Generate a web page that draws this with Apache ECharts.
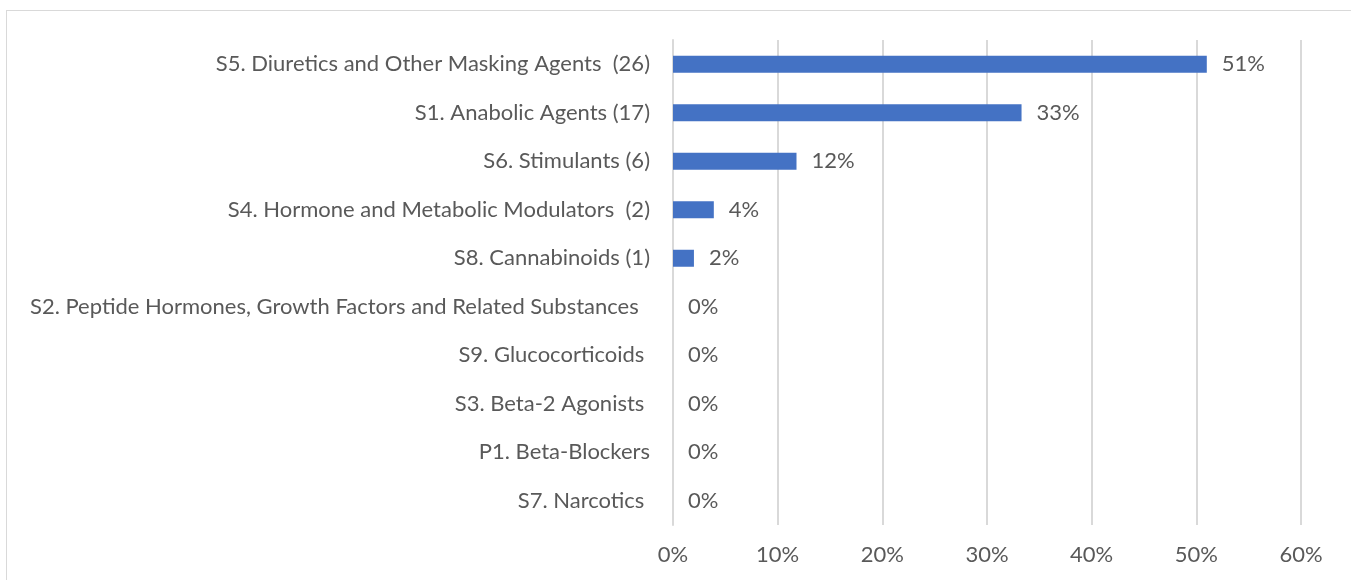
<!DOCTYPE html>
<html>
<head>
<meta charset="utf-8">
<script src="https://cdn.jsdelivr.net/npm/echarts@6/dist/echarts.min.js"></script>
<style>
  html, body { margin: 0; padding: 0; background: #fff; }
  #frame {
    position: absolute; left: 6px; top: 10px; width: 1400px; height: 600px;
    border-left: 1px solid #d9d9d9; border-top: 1px solid #d9d9d9;
  }
  #main { position: absolute; left: 0; top: 0; width: 1351px; height: 580px; }
</style>
</head>
<body>
<div id="frame"></div>
<div id="main"></div>
<script>
// categories top -> bottom (reversed for the category axis below)
var categories = [
  'S5. Diuretics and Other Masking Agents  (26)',
  'S1. Anabolic Agents (17)',
  'S6. Stimulants (6)',
  'S4. Hormone and Metabolic Modulators  (2)',
  'S8. Cannabinoids (1)',
  'S2. Peptide Hormones, Growth Factors and Related Substances  ',
  'S9. Glucocorticoids ',
  'S3. Beta-2 Agonists ',
  'P1. Beta-Blockers',
  'S7. Narcotics '
];
// share of cases, percent (label shows the rounded value)
var shares = [51.0, 33.3, 11.8, 3.9, 2.0, 0, 0, 0, 0, 0];
var xTicks = [0, 10, 20, 30, 40, 50, 60];

var textColor = '#595959';
var fontFamily = 'Lato, "Open Sans", sans-serif';
var fontSize = 22;

var chart = echarts.init(document.getElementById('main'));
chart.setOption({
  animation: false,
  grid: { left: 673, right: 50, top: 40, bottom: 55, containLabel: false },
  xAxis: {
    type: 'value',
    min: xTicks[0],
    max: xTicks[xTicks.length - 1],
    interval: 10,
    axisLine: { show: false },
    axisTick: { show: false },
    axisLabel: {
      color: textColor, fontSize: fontSize, fontFamily: fontFamily, margin: 19,
      formatter: '{value}%'
    },
    splitLine: { show: true, lineStyle: { color: '#d9d9d9', width: 2 } }
  },
  yAxis: {
    type: 'category',
    inverse: true,
    data: categories,
    axisLine: { show: true, lineStyle: { color: '#d9d9d9', width: 2 } },
    axisTick: { show: false },
    axisLabel: {
      color: textColor, fontSize: fontSize, fontFamily: fontFamily, margin: 23
    }
  },
  series: [{
    type: 'bar',
    data: shares,
    barWidth: 17,
    itemStyle: { color: '#4472c4' },
    label: {
      show: true,
      position: 'right',
      distance: 15,
      color: textColor, fontSize: fontSize, fontFamily: fontFamily,
      formatter: function (p) { return Math.round(p.value) + '%'; }
    }
  }]
});
</script>
</body>
</html>
